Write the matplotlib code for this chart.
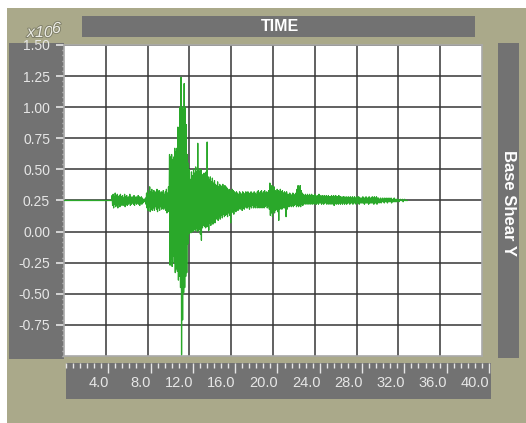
import numpy as np
import matplotlib
matplotlib.use('Agg')
import matplotlib.pyplot as plt
from matplotlib.patches import Rectangle
from matplotlib.ticker import AutoMinorLocator, FixedLocator, MultipleLocator
import matplotlib.patheffects as pe

# base shear record (x10^6), sampled every 0.1 s from 4.5 s
# each sample is drawn as a high / low excursion of the trace
trace_start = 4.5
dt = 0.1
baseline = 0.25

highs = [
    0.25, 0.29, 0.30, 0.28, 0.31, 0.29, 0.30, 0.28, 0.29, 0.30,   # 4.5
    0.28, 0.29, 0.27, 0.30, 0.28, 0.29, 0.27, 0.28, 0.30, 0.28,   # 5.5
    0.27, 0.28, 0.29, 0.27, 0.28, 0.27, 0.29, 0.28, 0.27, 0.28,   # 6.5
    0.27, 0.26, 0.26, 0.27, 0.31, 0.33, 0.30, 0.36, 0.32, 0.34,   # 7.5
    0.31, 0.33, 0.30, 0.32, 0.34, 0.31, 0.33, 0.30, 0.32, 0.31,   # 8.5
    0.33, 0.30, 0.32, 0.34, 0.31, 0.36, 0.62, 0.60, 0.62, 0.58,   # 9.5
    0.60, 0.67, 0.64, 0.67, 0.84, 0.80, 1.00, 1.24, 1.00, 0.98,   # 10.5
    1.19, 1.00, 0.86, 0.62, 0.55, 0.50, 0.42, 0.48, 0.45, 0.50,   # 11.5
    0.47, 0.52, 0.48, 0.71, 0.50, 0.48, 0.50, 0.46, 0.44, 0.47,   # 12.5
    0.45, 0.48, 0.72, 0.44, 0.42, 0.44, 0.40, 0.43, 0.39, 0.41,   # 13.5
    0.38, 0.37, 0.40, 0.36, 0.38, 0.37, 0.36, 0.38, 0.35, 0.37,   # 14.5
    0.36, 0.35, 0.33, 0.34, 0.33, 0.32, 0.34, 0.33, 0.32, 0.31,   # 15.5
    0.32, 0.31, 0.30, 0.32, 0.31, 0.30, 0.32, 0.31, 0.30, 0.32,   # 16.5
    0.31, 0.32, 0.31, 0.30, 0.32, 0.31, 0.30, 0.32, 0.31, 0.30,   # 17.5
    0.32, 0.33, 0.31, 0.32, 0.33, 0.31, 0.32, 0.33, 0.31, 0.32,   # 18.5
    0.31, 0.33, 0.39, 0.35, 0.37, 0.34, 0.36, 0.33, 0.32, 0.34,   # 19.5
    0.33, 0.32, 0.34, 0.32, 0.33, 0.31, 0.32, 0.31, 0.32, 0.30,   # 20.5
    0.30, 0.31, 0.30, 0.29, 0.31, 0.30, 0.29, 0.31, 0.34, 0.37,   # 21.5
    0.35, 0.37, 0.33, 0.31, 0.30, 0.29, 0.30, 0.29, 0.30, 0.29,   # 22.5
    0.30, 0.29, 0.30, 0.29, 0.29, 0.30, 0.29, 0.28, 0.29, 0.30,   # 23.5
    0.29, 0.28, 0.29, 0.28, 0.29, 0.28, 0.29, 0.28, 0.29, 0.28,   # 24.5
    0.28, 0.29, 0.28, 0.29, 0.28, 0.29, 0.28, 0.28, 0.29, 0.28,   # 25.5
    0.28, 0.27, 0.28, 0.28, 0.27, 0.28, 0.27, 0.28, 0.27, 0.28,   # 26.5
    0.27, 0.28, 0.27, 0.28, 0.27, 0.28, 0.27, 0.28, 0.27, 0.27,   # 27.5
    0.27, 0.28, 0.27, 0.27, 0.28, 0.27, 0.27, 0.28, 0.27, 0.27,   # 28.5
    0.28, 0.27, 0.28, 0.27, 0.28, 0.27, 0.27, 0.26, 0.27, 0.26,   # 29.5
    0.27, 0.26, 0.27, 0.26, 0.27, 0.26, 0.27, 0.26, 0.27, 0.26,   # 30.5
    0.26, 0.27, 0.26, 0.26, 0.26, 0.26, 0.25, 0.26, 0.25, 0.26,   # 31.5
    0.25, 0.26, 0.25, 0.25,                                       # 32.5
]
lows = [
    0.25, 0.21, 0.19, 0.22, 0.20, 0.21, 0.19, 0.22, 0.20, 0.21,
    0.22, 0.21, 0.23, 0.20, 0.22, 0.21, 0.22, 0.23, 0.21, 0.22,
    0.23, 0.22, 0.21, 0.23, 0.22, 0.23, 0.22, 0.21, 0.23, 0.22,
    0.23, 0.24, 0.24, 0.22, 0.19, 0.17, 0.20, 0.16, 0.18, 0.17,
    0.19, 0.17, 0.20, 0.18, 0.16, 0.19, 0.17, 0.20, 0.18, 0.19,
    0.18, 0.20, 0.17, 0.15, 0.19, 0.16, -0.27, -0.22, -0.28, -0.20,
    -0.25, -0.33, -0.30, -0.32, -0.39, -0.36, -0.45, -0.99, -0.71, -0.49,
    -0.45, -0.36, -0.33, -0.10, -0.02, 0.00, -0.01, 0.03, 0.00, 0.02,
    0.01, 0.03, 0.00, 0.01, 0.02, -0.02, -0.07, 0.03, 0.05, 0.04,
    0.03, 0.04, 0.04, 0.01, 0.07, 0.05, 0.08, 0.06, 0.09, 0.07,
    0.10, 0.12, 0.09, 0.12, 0.10, 0.13, 0.11, 0.14, 0.12, 0.13,
    0.14, 0.12, 0.15, 0.13, 0.07, 0.15, 0.16, 0.14, 0.17, 0.16,
    0.18, 0.17, 0.19, 0.18, 0.20, 0.17, 0.19, 0.18, 0.20, 0.19,
    0.19, 0.20, 0.18, 0.20, 0.19, 0.21, 0.19, 0.20, 0.19, 0.21,
    0.19, 0.20, 0.19, 0.21, 0.19, 0.20, 0.19, 0.20, 0.21, 0.19,
    0.20, 0.18, 0.13, 0.15, 0.12, 0.16, 0.15, 0.17, 0.18, 0.16,
    0.09, 0.18, 0.19, 0.18, 0.20, 0.19, 0.19, 0.12, 0.18, 0.20,
    0.20, 0.21, 0.20, 0.21, 0.20, 0.21, 0.22, 0.20, 0.21, 0.20,
    0.21, 0.20, 0.22, 0.21, 0.22, 0.23, 0.22, 0.23, 0.22, 0.23,
    0.22, 0.23, 0.22, 0.23, 0.22, 0.23, 0.22, 0.23, 0.22, 0.23,
    0.23, 0.22, 0.23, 0.22, 0.23, 0.23, 0.22, 0.23, 0.22, 0.23,
    0.22, 0.23, 0.22, 0.21, 0.23, 0.22, 0.23, 0.22, 0.23, 0.22,
    0.23, 0.22, 0.23, 0.22, 0.23, 0.22, 0.23, 0.23, 0.22, 0.23,
    0.23, 0.22, 0.23, 0.23, 0.22, 0.23, 0.23, 0.22, 0.23, 0.23,
    0.23, 0.23, 0.22, 0.23, 0.23, 0.23, 0.22, 0.23, 0.23, 0.23,
    0.23, 0.22, 0.23, 0.23, 0.22, 0.24, 0.23, 0.24, 0.23, 0.24,
    0.24, 0.23, 0.24, 0.24, 0.23, 0.24, 0.24, 0.24, 0.23, 0.24,
    0.24, 0.24, 0.24, 0.24, 0.25, 0.24, 0.25, 0.25, 0.25, 0.24,
    0.25, 0.25, 0.25, 0.25,
]

y_ticks = [-0.75, -0.50, -0.25, 0.00, 0.25, 0.50, 0.75, 1.00, 1.25, 1.50]
x_grid = [4, 8, 12, 16, 20, 24, 28, 32, 36]
ruler_ticks = [4.0, 8.0, 12.0, 16.0, 20.0, 24.0, 28.0, 32.0, 36.0, 40.0]

KHAKI = '#aaa98a'
PANEL = '#727272'
LABEL = '#e6e6e6'
GREEN = '#2aa82a'

W, H = 526, 423


def box(x0, y0, x1, y1):
    # pixel box (top-left origin) -> figure fraction rect
    return [x0 / W, 1 - y1 / H, (x1 - x0) / W, (y1 - y0) / H]


def panel(fig, x0, y0, x1, y1, color):
    l, b, w, h = box(x0, y0, x1, y1)
    fig.patches.append(Rectangle((l, b), w, h, transform=fig.transFigure,
                                 facecolor=color, edgecolor='none', zorder=-10))


plt.rcParams['font.family'] = ['Liberation Sans', 'DejaVu Sans']

fig = plt.figure(figsize=(W / 100, H / 100), dpi=100, facecolor='white')

panel(fig, 7, 8, 526, 423, KHAKI)        # frame
panel(fig, 9, 43, 64, 359, PANEL)        # y axis strip
panel(fig, 82, 16, 475, 37, PANEL)       # title bar
panel(fig, 498, 43, 519, 358, PANEL)     # right label bar

# main plot
ax = fig.add_axes(box(64, 45, 482, 356))
ax.set_facecolor('white')
ax.set_xlim(0, 40)
ax.set_ylim(-1.0, 1.5)

t = trace_start + dt * np.arange(len(highs))
zig_t = np.column_stack((t, t + dt / 2)).ravel()
zig_v = np.column_stack((highs, lows)).ravel()
ax.plot(np.r_[0.0, zig_t], np.r_[baseline, zig_v], color=GREEN, lw=0.9, zorder=3)

ax.set_xticks(x_grid)
ax.set_yticks(y_ticks)
ax.yaxis.set_minor_locator(AutoMinorLocator(6))
ax.set_yticklabels(['%.2f' % v for v in y_ticks])
ax.grid(True, color='#363636', lw=1.1, zorder=1)
ax.tick_params(axis='x', length=0, labelbottom=False)
ax.tick_params(axis='y', which='major', direction='out', length=6, width=1.2,
               color=LABEL, pad=4, labelsize=10, labelcolor=LABEL)
ax.tick_params(axis='y', which='minor', direction='out', length=1.5, width=1.0,
               color='#cfcfcf')
for s in ax.spines.values():
    s.set_color('#a9a9a9')
    s.set_linewidth(1.2)

# time ruler below the plot
rx = fig.add_axes(box(66, 363, 491, 399))
rx.set_facecolor(PANEL)
rx.set_xlim(0, 40 * 425 / 423)
rx.set_ylim(0, 1)
rx.xaxis.set_major_locator(FixedLocator(ruler_ticks))
rx.xaxis.set_minor_locator(MultipleLocator(4 / 6))
rx.tick_params(axis='x', which='both', top=True, bottom=False, direction='in',
               labelbottom=False, color=LABEL, width=1.0)
rx.tick_params(axis='x', which='major', length=7)
rx.tick_params(axis='x', which='minor', length=3.4)
rx.set_yticks([])
for s in rx.spines.values():
    s.set_visible(False)
for v in ruler_ticks:
    rx.text(v + 0.05, 0.45, '%.1f' % v, ha='right', va='center',
            fontsize=10.5, color=LABEL)

# titles
l, b, w, h = box(82, 16, 475, 37)
fig.text(280 / W, b + h / 2, 'TIME', ha='center', va='center',
         fontsize=11.5, fontweight='bold', color='white')
l, b, w, h = box(498, 43, 519, 358)
fig.text(l + w / 2, 1 - 203 / H, 'Base Shear Y', ha='center', va='center',
         rotation=-90, fontsize=12, fontweight='bold', color='white')

# axis multiplier
outline = [pe.withStroke(linewidth=1.3, foreground='#7e7e68')]
fig.text(27 / W, 1 - 37 / H, 'x10', ha='left', va='baseline', fontsize=11.5,
         fontstyle='italic', color='#ecece4', path_effects=outline)
fig.text(52 / W, 1 - 33 / H, '6', ha='left', va='baseline', fontsize=11.5,
         fontstyle='italic', color='#ecece4', path_effects=outline)

fig.savefig('out.png', dpi=100, facecolor=fig.get_facecolor())
